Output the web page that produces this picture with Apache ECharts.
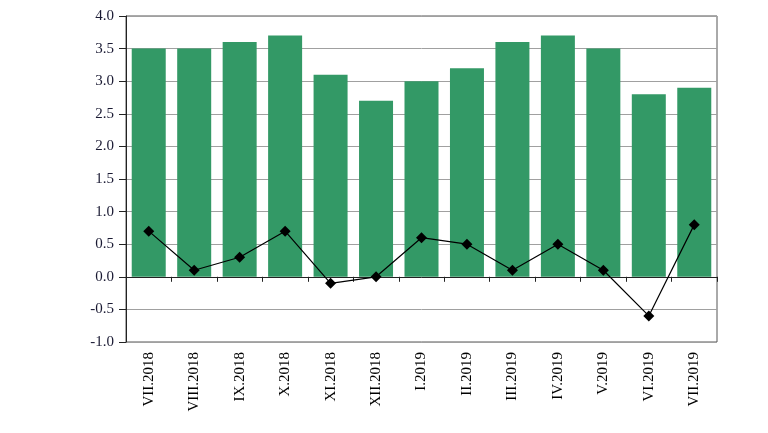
<!DOCTYPE html>
<html><head><meta charset="utf-8">
<script src="https://cdn.jsdelivr.net/npm/echarts@6/dist/echarts.min.js"></script>
<style>html,body{margin:0;padding:0;background:#fff}#c{width:768px;height:433px}</style>
</head><body><div id="c"></div>
<script>
const categories = ['VII.2018','VIII.2018','IX.2018','X.2018','XI.2018','XII.2018','I.2019','II.2019','III.2019','IV.2019','V.2019','VI.2019','VII.2019'];
const barValues = [3.5,3.5,3.6,3.7,3.1,2.7,3.0,3.2,3.6,3.7,3.5,2.8,2.9];
const lineValues = [0.7,0.1,0.3,0.7,-0.1,0.0,0.6,0.5,0.1,0.5,0.1,-0.6,0.8];
const yTicks = ['-1.0','-0.5','0.0','0.5','1.0','1.5','2.0','2.5','3.0','3.5','4.0'];
const font = '"Liberation Serif", "Times New Roman", serif';
const chart = echarts.init(document.getElementById('c'), null, {renderer:'canvas'});
chart.setOption({
  animation:false,
  grid:{left:126,right:51,top:16,bottom:91,show:true,borderColor:'#555',borderWidth:1,backgroundColor:'transparent'},
  xAxis:[{
    type:'category',data:categories,
    axisLine:{onZero:true,lineStyle:{color:'#222',width:1}},
    axisTick:{show:true,inside:false,length:5,interval:0,lineStyle:{color:'#222'}},
    axisLabel:{show:false},splitLine:{show:false}
  },{
    type:'category',data:categories,position:'bottom',
    axisLine:{show:false},axisTick:{show:false},
    axisLabel:{rotate:90,interval:0,margin:10,fontFamily:font,fontSize:15,color:'#000'}
  }],
  yAxis:{
    type:'value',min:-1,max:4,interval:0.5,
    axisLine:{show:true,lineStyle:{color:'#222'}},
    axisTick:{show:true,length:7,lineStyle:{color:'#222'}},
    axisLabel:{formatter:v=>yTicks[Math.round((v+1)/0.5)],fontFamily:font,fontSize:15,color:'#1a1a33',margin:12},
    splitLine:{show:true,lineStyle:{color:'#a0a0a0',width:1}}
  },
  series:[{
    type:'bar',data:barValues,barWidth:34,
    itemStyle:{color:'#339966'}
  },{
    type:'line',data:lineValues,symbol:'diamond',symbolSize:11,
    lineStyle:{color:'#000',width:1.2},itemStyle:{color:'#000'},z:5
  }]
});
</script></body></html>
